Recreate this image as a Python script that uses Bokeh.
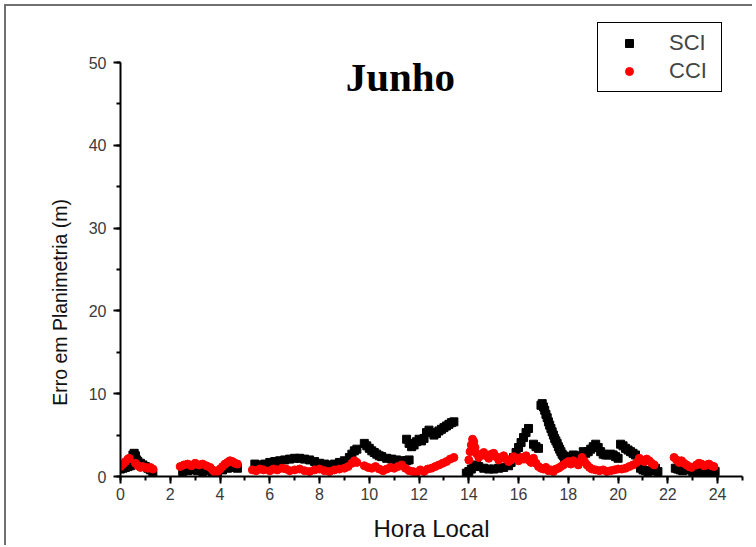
from bokeh.plotting import figure
from bokeh.models import Range1d, Label, FixedTicker
from bokeh.embed import file_html
from bokeh.resources import INLINE

# ---- data ----
sci_hour = [
    0.00, 0.10, 0.20, 0.30, 0.40, 0.50, 0.55, 0.60, 0.65, 0.70, 0.80, 0.90, 1.00, 1.10, 1.20, 1.30,
    2.50, 2.70, 2.90, 3.10, 3.30, 3.50, 3.70, 3.90, 4.10, 4.30, 4.50, 4.70,
    5.40, 5.60, 5.80, 6.00, 6.20, 6.40, 6.60, 6.80, 7.00, 7.20, 7.40, 7.60, 7.80, 8.00, 8.20, 8.40,
    8.60, 8.80, 9.00, 9.20, 9.30, 9.40, 9.50,
    9.80, 9.90, 10.00, 10.10, 10.20, 10.30, 10.40, 10.50, 10.70, 10.90, 11.10, 11.30, 11.50, 11.60,
    11.50, 11.60, 11.70, 11.80, 11.90, 12.00, 12.10, 12.20, 12.30, 12.40, 12.50, 12.60, 12.70, 12.80,
    12.90, 13.00, 13.10, 13.20, 13.30, 13.40,
    13.90, 14.00, 14.10, 14.20, 14.30, 14.40, 14.60, 14.80, 15.00, 15.20, 15.40, 15.60, 15.70, 15.80,
    15.90, 16.00, 16.10, 16.20, 16.30, 16.40,
    16.60, 16.70, 16.80,
    16.90, 16.95, 17.00, 17.05, 17.10, 17.15, 17.20, 17.25, 17.30, 17.35, 17.40, 17.45, 17.50, 17.55,
    17.60, 17.65, 17.70, 17.75, 17.80, 17.85, 17.90, 17.95,
    18.00, 18.10, 18.20, 18.30, 18.40,
    18.60, 18.70, 18.80, 18.90, 19.00, 19.10, 19.20, 19.30, 19.40, 19.50, 19.60, 19.70, 19.80, 19.90, 20.00,
    20.10, 20.20, 20.30, 20.40, 20.50, 20.60, 20.70,
    20.90, 21.00, 21.10, 21.20, 21.30, 21.40, 21.50, 21.60,
    22.30, 22.40, 22.50, 22.60, 22.70, 22.80, 22.90, 23.00,
    23.20, 23.40, 23.60, 23.80, 23.90,
]
sci_err = [
    0.9, 1.0, 1.1, 1.2, 1.3, 2.6, 2.8, 2.5, 2.0, 1.8, 1.6, 1.4, 1.2, 1.0, 0.8, 0.5,
    0.6, 0.7, 0.8, 0.7, 0.6, 0.7, 0.5, 0.4, 0.8, 1.0, 1.1, 1.0,
    1.5, 1.4, 1.5, 1.7, 1.8, 1.9, 2.0, 2.1, 2.2, 2.2, 2.1, 2.0, 1.8, 1.6, 1.5, 1.4,
    1.5, 1.7, 1.9, 2.3, 2.7, 3.1, 3.3,
    4.0, 3.7, 3.4, 3.1, 2.9, 2.7, 2.5, 2.4, 2.2, 2.1, 2.0, 1.9, 1.9, 2.0,
    4.5, 4.0, 3.6, 3.8, 4.2, 4.5, 4.3, 4.6, 5.3, 5.6, 5.3, 5.0, 5.2, 5.5,
    5.7, 5.9, 6.1, 6.3, 6.5, 6.6,
    0.4, 0.6, 0.9, 1.2, 1.4, 1.2, 1.0, 0.9, 0.9, 1.0, 1.1, 1.3, 1.7, 2.3,
    2.9, 3.5, 4.1, 4.7, 5.3, 5.8,
    3.9, 3.6, 3.4,
    8.6, 8.8, 8.4, 8.0, 7.5, 7.1, 6.6, 6.2, 5.8, 5.4, 5.0, 4.6, 4.3, 4.0,
    3.6, 3.3, 3.0, 2.7, 2.5, 2.2, 2.0, 1.9,
    2.1, 2.4, 2.6, 2.5, 2.2,
    3.0, 2.8, 3.0, 3.3, 3.6, 3.9, 3.5, 3.0, 2.7, 2.6, 2.6, 2.7, 2.6, 2.4, 2.2,
    3.9, 3.7, 3.4, 3.2, 3.0, 2.8, 2.6,
    1.0, 0.8, 0.7, 0.6, 0.7, 0.8, 1.0, 0.6,
    1.0, 0.9, 0.8, 0.7, 0.8, 0.9, 1.0, 0.6,
    0.6, 0.5, 0.6, 0.5, 0.6,
]

cci_hour = [
    0.00, 0.10, 0.20, 0.30, 0.35,
    0.60, 0.70, 0.80, 0.90, 1.00, 1.10, 1.20, 1.30,
    2.40, 2.55, 2.70, 2.85, 3.00, 3.15, 3.30, 3.45, 3.60, 3.70, 3.80, 3.90, 4.00, 4.10, 4.20, 4.30,
    4.40, 4.50, 4.60, 4.70,
    5.30, 5.45, 5.60, 5.75, 6.00, 6.15, 6.30, 6.50, 6.65, 6.80, 7.00, 7.20, 7.40, 7.60, 7.80, 8.00,
    8.20, 8.40, 8.60, 8.80, 9.00, 9.15, 9.30, 9.40, 9.50,
    9.80, 9.95, 10.10, 10.25, 10.40, 10.55, 10.70, 10.85, 11.00, 11.15, 11.30, 11.45,
    11.60, 11.75, 11.90, 12.05, 12.20, 12.35, 12.50, 12.65, 12.80, 12.95, 13.10, 13.25, 13.40,
    14.00, 14.05, 14.10, 14.15, 14.20, 14.25, 14.30, 14.40, 14.50, 14.60, 14.70, 14.80, 14.90, 15.00,
    15.10, 15.20, 15.30, 15.40, 15.50, 15.60, 15.70, 15.80, 15.90, 16.00, 16.10, 16.20, 16.30, 16.40,
    16.50, 16.60, 16.70,
    16.80, 16.90, 17.00, 17.10, 17.20, 17.30, 17.40, 17.50, 17.60, 17.70, 17.80, 17.90, 18.00, 18.10,
    18.20, 18.30, 18.40,
    18.55, 18.65, 18.75, 18.85, 18.95, 19.10, 19.25, 19.40, 19.55, 19.70, 19.85, 20.00,
    20.15, 20.30, 20.45, 20.60, 20.75, 20.85, 20.95, 21.05, 21.15, 21.25, 21.35, 21.45,
    22.25, 22.35, 22.45, 22.55, 22.65, 22.75, 22.85, 22.95,
    23.15, 23.25, 23.35, 23.45, 23.55, 23.65, 23.75, 23.85,
]
cci_err = [
    1.2, 1.5, 1.8, 2.1, 2.2,
    1.6, 1.3, 1.1, 1.2, 1.1, 1.0, 1.1, 0.9,
    1.2, 1.4, 1.5, 1.3, 1.6, 1.4, 1.5, 1.3, 1.1, 0.8, 0.5, 0.6, 0.9, 1.2, 1.5, 1.7,
    1.9, 1.8, 1.6, 1.5,
    0.8, 0.7, 0.9, 0.8, 0.7, 0.9, 0.8, 1.0, 0.9, 0.7, 0.8, 0.9, 0.7, 0.6, 0.8, 0.9,
    0.7, 0.6, 0.8, 0.9, 1.0, 1.2, 1.6, 1.9, 1.7,
    1.3, 1.1, 1.0, 1.2, 0.9, 0.7, 0.9, 1.1, 1.0, 1.2, 1.4, 1.0,
    0.7, 0.6, 0.5, 0.8, 0.6, 0.9, 1.0, 1.2, 1.4, 1.6, 1.8, 2.1, 2.3,
    2.0, 3.0, 3.8, 4.5, 4.2, 3.5, 2.8, 2.3, 2.6, 2.9, 2.5, 2.2, 2.7, 2.8,
    2.4, 2.0, 2.3, 2.5, 2.1, 1.8, 2.0, 2.4, 2.2, 1.9, 2.3, 2.1, 2.5, 2.0,
    1.7, 2.2, 1.6,
    1.2, 1.0, 0.9, 1.1, 0.7, 0.8, 0.6, 0.9, 1.0, 1.2, 1.4, 1.6, 1.8, 1.5,
    1.9, 1.7, 1.4,
    2.3, 1.8, 1.4, 1.1, 0.9, 0.8, 0.7, 0.8, 0.6, 0.7, 0.8, 0.9,
    0.9, 1.0, 1.2, 1.4, 1.7, 2.2, 2.0, 1.8, 2.1, 1.9, 1.6, 1.4,
    2.3, 2.0, 1.7, 1.9, 1.6, 1.4, 1.2, 1.1,
    1.4, 1.6, 1.5, 1.3, 1.4, 1.5, 1.3, 1.2,
]

x_ticks = list(range(0, 25, 2))
x_minor = list(range(0, 26))
y_ticks = [0, 10, 20, 30, 40, 50]
y_minor = list(range(0, 51, 5))

# ---- figure ----
p = figure(width=748, height=541, output_backend="svg", toolbar_location=None,
           x_range=Range1d(0, 25), y_range=Range1d(0, 55.8),
           min_border_left=114, min_border_right=12, min_border_top=8, min_border_bottom=71)
p.styles = {"margin-left": "4px", "margin-top": "4px",
            "border-left": "2px solid #707070", "border-top": "2px solid #707070"}
p.outline_line_color = None
p.xgrid.visible = False
p.ygrid.visible = False
p.background_fill_color = "white"
p.border_fill_color = "white"

p.scatter(sci_hour, sci_err, marker="square", size=8, color="black", legend_label="SCI")
p.scatter(cci_hour, cci_err, marker="circle", size=8, color="red", legend_label="CCI")

for ax in (p.xaxis[0], p.yaxis[0]):
    ax.axis_line_color = "black"
    ax.axis_line_width = 2
    ax.major_tick_line_width = 2
    ax.minor_tick_line_width = 2
    ax.major_tick_in = 0
    ax.major_tick_out = 7
    ax.minor_tick_in = 0
    ax.minor_tick_out = 4
    ax.major_label_text_font = "Liberation Sans"
    ax.major_label_text_font_size = "16px"
    ax.major_label_text_color = "#3a3a3a"
    ax.axis_label_text_font = "Liberation Sans"
    ax.axis_label_text_font_style = "normal"
    ax.axis_label_text_color = "#111111"

p.xaxis.bounds = (0, 25)
p.xaxis[0].ticker = FixedTicker(ticks=x_ticks, minor_ticks=x_minor)
p.xaxis.axis_label = "Hora Local"
p.xaxis.axis_label_text_font_size = "24px"
p.xaxis.major_label_standoff = 4
p.xaxis.axis_label_standoff = 12

p.yaxis.bounds = (0, 50)
p.yaxis[0].ticker = FixedTicker(ticks=y_ticks, minor_ticks=y_minor)
p.yaxis.major_label_standoff = 7
# trailing no-break spaces shift the centred label down to where it sits in the reference
p.yaxis.axis_label = "Erro em Planimetria (m)" + "\u00a0" * 21
p.yaxis.axis_label_text_font_size = "19.5px"
p.yaxis.axis_label_standoff = 15

title = Label(x=11.25, y=48.3, text="Junho", text_font="Liberation Serif",
              text_font_style="bold", text_font_size="41px", text_align="center",
              text_baseline="alphabetic", text_color="black")
p.add_layout(title)

lg = p.legend[0]
lg.location = (477, 384)
lg.border_line_color = "black"
lg.border_line_width = 1
lg.border_line_alpha = 1
lg.background_fill_alpha = 1
lg.padding = 7
lg.spacing = 2
lg.margin = 0
lg.glyph_width = 48
lg.glyph_height = 20
lg.label_standoff = 16
lg.label_width = 45
lg.label_text_font = "Liberation Sans"
lg.label_text_font_size = "22px"
lg.label_height = 20

open("out.html", "w").write(file_html(p, INLINE))
